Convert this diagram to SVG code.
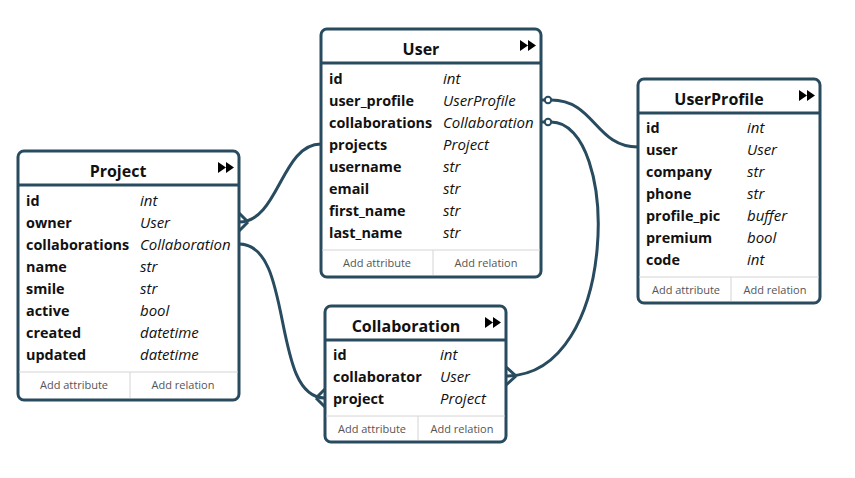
<svg xmlns="http://www.w3.org/2000/svg" width="855" height="478" viewBox="0 0 855 478">
<style>
.box{fill:#fff;stroke:#284b5f;stroke-width:3}
.hl{stroke:#284b5f;stroke-width:3}
.fl{stroke:#d4d4d4;stroke-width:1}
.title{font-family:"Open Sans","Noto Sans",sans-serif;font-weight:bold;font-size:16px;fill:#111;text-anchor:middle}
.n{font-family:"Open Sans","Noto Sans",sans-serif;font-weight:bold;font-size:14.4px;fill:#111}
.t{font-family:"Open Sans","Noto Sans",sans-serif;font-style:italic;font-size:15px;fill:#111}
.f{font-family:"Open Sans","Noto Sans",sans-serif;font-size:11px;fill:#555;text-anchor:middle}
.ic{fill:#000}
.c{fill:none;stroke:#284b5f;stroke-width:3}
.o{fill:#fff;stroke:#284b5f;stroke-width:2}
</style>
<g id="connectors">
<path class="c" d="M321,144 C281,144 279,222 239,222"/>
<path class="c" d="M248,222 L239,213 M248,222 L239,231"/>
<path class="c" d="M239,244 C295,244 270,398 325,398"/>
<path class="c" d="M316,398 L325,389 M316,398 L325,407"/>
<path class="c" d="M541,100 H545 M551,100 C595,100 595,147 638,147"/>
<circle class="o" cx="548" cy="100" r="3.2"/>
<path class="c" d="M541,122 H545 M551,122 C620,122 620,376 506,376"/>
<circle class="o" cx="548" cy="122" r="3.2"/>
<path class="c" d="M516,376 L506,367 M516,376 L506,385"/>
</g>
<g id="User">
<rect class="box" x="321" y="29" width="220" height="248" rx="6"/>
<line class="hl" x1="321" y1="63" x2="541" y2="63"/>
<text class="title" x="421" y="55">User</text>
<path class="ic" d="M520,40 L528,45.5 L520,51 Z M528,40 L536,45.5 L528,51 Z"/>
<text class="n" x="329" y="84">id</text><text class="t" x="443" y="84">int</text>
<text class="n" x="329" y="106">user_profile</text><text class="t" x="443" y="106">UserProfile</text>
<text class="n" x="329" y="128">collaborations</text><text class="t" x="443" y="128">Collaboration</text>
<text class="n" x="329" y="150">projects</text><text class="t" x="443" y="150">Project</text>
<text class="n" x="329" y="172">username</text><text class="t" x="443" y="172">str</text>
<text class="n" x="329" y="194">email</text><text class="t" x="443" y="194">str</text>
<text class="n" x="329" y="216">first_name</text><text class="t" x="443" y="216">str</text>
<text class="n" x="329" y="238">last_name</text><text class="t" x="443" y="238">str</text>
<line class="fl" x1="322" y1="250" x2="540" y2="250"/>
<line class="fl" x1="433" y1="250" x2="433" y2="275"/>
<text class="f" x="377" y="267">Add attribute</text>
<text class="f" x="486" y="267">Add relation</text>
</g>
<g id="Project">
<rect class="box" x="18" y="151" width="221" height="249" rx="6"/>
<line class="hl" x1="18" y1="185" x2="239" y2="185"/>
<text class="title" x="118" y="177">Project</text>
<path class="ic" d="M218,162 L226,167.5 L218,173 Z M226,162 L234,167.5 L226,173 Z"/>
<text class="n" x="26" y="206">id</text><text class="t" x="140" y="206">int</text>
<text class="n" x="26" y="228">owner</text><text class="t" x="140" y="228">User</text>
<text class="n" x="26" y="250">collaborations</text><text class="t" x="140" y="250">Collaboration</text>
<text class="n" x="26" y="272">name</text><text class="t" x="140" y="272">str</text>
<text class="n" x="26" y="294">smile</text><text class="t" x="140" y="294">str</text>
<text class="n" x="26" y="316">active</text><text class="t" x="140" y="316">bool</text>
<text class="n" x="26" y="338">created</text><text class="t" x="140" y="338">datetime</text>
<text class="n" x="26" y="360">updated</text><text class="t" x="140" y="360">datetime</text>
<line class="fl" x1="19" y1="372" x2="238" y2="372"/>
<line class="fl" x1="130" y1="372" x2="130" y2="398"/>
<text class="f" x="74" y="389">Add attribute</text>
<text class="f" x="183" y="389">Add relation</text>
</g>
<g id="UserProfile">
<rect class="box" x="638" y="79" width="182" height="224" rx="6"/>
<line class="hl" x1="638" y1="113" x2="820" y2="113"/>
<text class="title" x="719" y="105">UserProfile</text>
<path class="ic" d="M799,90 L807,95.5 L799,101 Z M807,90 L815,95.5 L807,101 Z"/>
<text class="n" x="646" y="133">id</text><text class="t" x="747" y="133">int</text>
<text class="n" x="646" y="155">user</text><text class="t" x="747" y="155">User</text>
<text class="n" x="646" y="177">company</text><text class="t" x="747" y="177">str</text>
<text class="n" x="646" y="199">phone</text><text class="t" x="747" y="199">str</text>
<text class="n" x="646" y="221">profile_pic</text><text class="t" x="747" y="221">buffer</text>
<text class="n" x="646" y="243">premium</text><text class="t" x="747" y="243">bool</text>
<text class="n" x="646" y="265">code</text><text class="t" x="747" y="265">int</text>
<line class="fl" x1="639" y1="277" x2="819" y2="277"/>
<line class="fl" x1="731" y1="277" x2="731" y2="301"/>
<text class="f" x="686" y="294">Add attribute</text>
<text class="f" x="775" y="294">Add relation</text>
</g>
<g id="Collaboration">
<rect class="box" x="325" y="306" width="181" height="136" rx="6"/>
<line class="hl" x1="325" y1="340" x2="506" y2="340"/>
<text class="title" x="406" y="332">Collaboration</text>
<path class="ic" d="M485,317 L493,322.5 L485,328 Z M493,317 L501,322.5 L493,328 Z"/>
<text class="n" x="333" y="360">id</text><text class="t" x="440" y="360">int</text>
<text class="n" x="333" y="382">collaborator</text><text class="t" x="440" y="382">User</text>
<text class="n" x="333" y="404">project</text><text class="t" x="440" y="404">Project</text>
<line class="fl" x1="326" y1="416" x2="505" y2="416"/>
<line class="fl" x1="418" y1="416" x2="418" y2="440"/>
<text class="f" x="372" y="433">Add attribute</text>
<text class="f" x="462" y="433">Add relation</text>
</g>
</svg>
